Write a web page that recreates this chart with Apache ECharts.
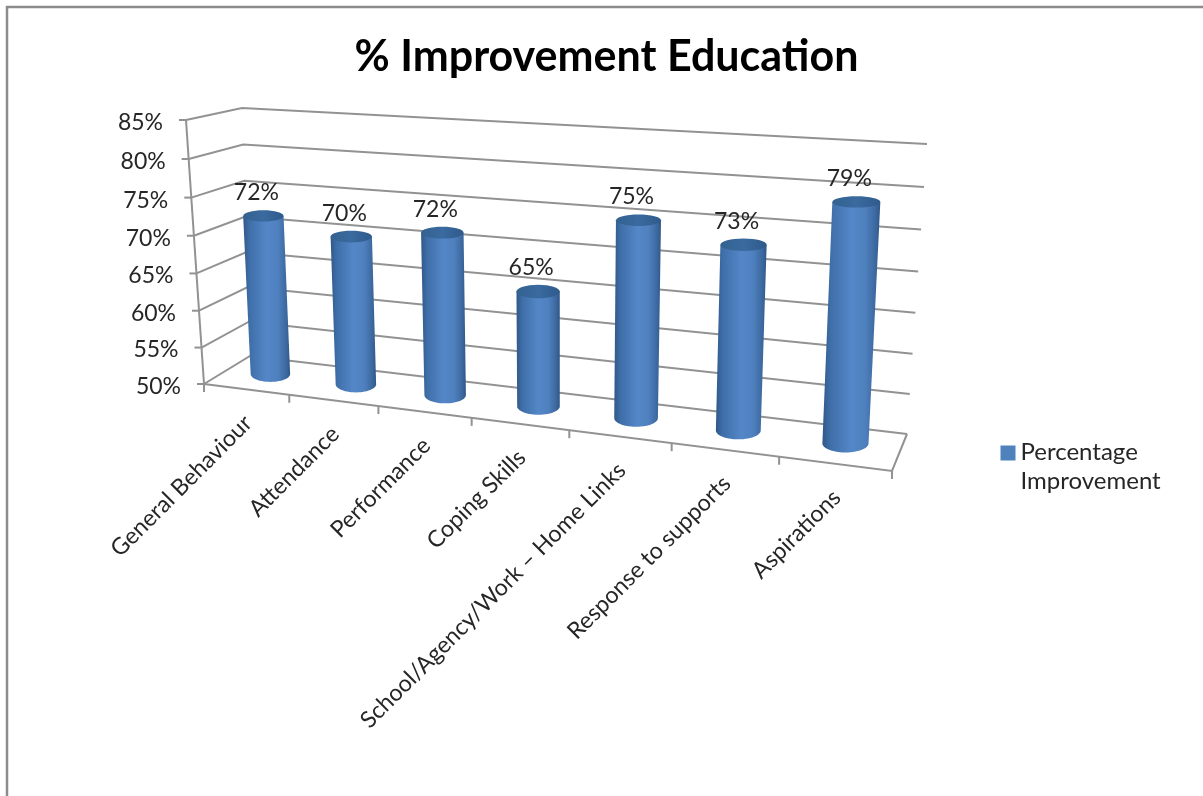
<!DOCTYPE html>
<html>
<head>
<meta charset="utf-8">
<script src="https://cdn.jsdelivr.net/npm/echarts@6/dist/echarts.min.js"></script>
<style>html,body{margin:0;padding:0;background:#fff}#c{width:1203px;height:796px}</style>
</head>
<body>
<div id="c"></div>
<script>
const chartTitle = '% Improvement Education';
const seriesName = 'Percentage Improvement';
const categories = ['General Behaviour','Attendance','Performance','Coping Skills','School/Agency/Work – Home Links','Response to supports','Aspirations'];
const values = [71.8,70,71.5,65,75,73,79];
const yTicks = [50,55,60,65,70,75,80,85];

// Perspective planes [bottom-left, bottom-right, top-right, top-left]
const BACK  = [[250,356],[907,434],[927,144],[242,108]];
const FRONT = [[204,384],[892,471],[904,162],[186,120]];
const BARS  = [[229,369],[901,450],[917,153],[216,114]];
const FONT = 'Lato, "Open Sans", sans-serif';
const INK = '#262626', RULE = '#929292';

function homography(q){
  const [[x0,y0],[x1,y1],[x2,y2],[x3,y3]] = q;
  const dx1=x1-x2, dx2=x3-x2, sx=x0-x1+x2-x3, dy1=y1-y2, dy2=y3-y2, sy=y0-y1+y2-y3;
  const d=dx1*dy2-dx2*dy1, g=(sx*dy2-dx2*sy)/d, h=(dx1*sy-sx*dy1)/d;
  const a=x1-x0+g*x1, b=x3-x0+h*x3, c=x0, e=y1-y0+g*y1, f=y3-y0+h*y3, k=y0;
  return (u,v)=>{const w=g*u+h*v+1; return [(a*u+b*v+c)/w,(e*u+f*v+k)/w];};
}
const backH=homography(BACK), frontH=homography(FRONT), barH=homography(BARS);

function norm(params,pt){
  const s=params.coordSys;
  return [(pt[0]-s.x)/s.width,(s.y+s.height-pt[1])/s.height];
}
function line(points,width){
  return {type:'polyline',shape:{points},style:{stroke:RULE,lineWidth:width||2,fill:null},silent:true};
}
function label(text,x,y,size){
  return {type:'text',x,y,silent:true,style:{text,fill:INK,font:size+'px '+FONT,align:'center',verticalAlign:'middle'}};
}
function arc(cx,cy,rx,ry,from,to,n){
  const out=[];
  for(let i=0;i<=n;i++){const t=from+(to-from)*i/n; out.push([cx+rx*Math.cos(t),cy+ry*Math.sin(t)]);}
  return out;
}

function renderFrame(params,api){
  const tick=api.value(1);
  const v=norm(params,api.coord([0,tick]))[1];
  const f=frontH(0,v), bl=backH(0,v), br=backH(1,v);
  const children=[
    line([f,bl,br]),
    line([[f[0]-7,f[1]],f]),
    {type:'text',x:f[0]-23,y:f[1]+2.5,silent:true,style:{text:tick+'%',fill:INK,font:'23px '+FONT,align:'right',verticalAlign:'middle'}}
  ];
  if(params.dataIndex===0){
    children.push(line([frontH(0,0),frontH(0,1)]));
    children.push(line([frontH(0,0),frontH(1,0),backH(1,0)]));
    for(let k=0;k<=categories.length;k++){
      const p=frontH(k/categories.length,0);
      children.push(line([p,[p[0],p[1]+8]]));
    }
  }
  return {type:'group',children};
}

function renderBar(params,api){
  const i=api.value(0), val=api.value(1);
  const top=norm(params,api.coord([i,val])), base=norm(params,api.coord([i,yTicks[0]]));
  const band=api.size([1,0])[0]/params.coordSys.width;
  const half=band*(0.238-0.03*base[0]);
  const pT=barH(top[0],top[1]), pB=barH(base[0],base[1]);
  const rxT=(barH(top[0]+half,top[1])[0]-barH(top[0]-half,top[1])[0])/2;
  const rxB=(barH(base[0]+half,base[1])[0]-barH(base[0]-half,base[1])[0])/2;
  const ryT=rxT*(0.40-0.20*top[1]), ryB=rxB*0.40;
  const body=[[pT[0]-rxT,pT[1]],[pT[0]+rxT,pT[1]]].concat(arc(pB[0],pB[1],rxB,ryB,0,Math.PI,28));
  const bodyFill=new echarts.graphic.LinearGradient(0,0,1,0,[
    {offset:0,color:'#305889'},{offset:0.14,color:'#3f6fa9'},{offset:0.5,color:'#5487c8'},
    {offset:0.74,color:'#4f80be'},{offset:0.93,color:'#3a669c'},{offset:1,color:'#2f5686'}]);
  const capFill=new echarts.graphic.LinearGradient(0,0,1,0,[
    {offset:0,color:'#33628f'},{offset:0.5,color:'#3a6a9f'},{offset:1,color:'#2f5a8c'}]);
  return {type:'group',children:[
    {type:'polygon',shape:{points:body},style:{fill:bodyFill}},
    {type:'ellipse',shape:{cx:pT[0],cy:pT[1],rx:rxT,ry:ryT},style:{fill:capFill}},
    label(Math.round(val)+'%',pT[0]-7,pT[1]-23.5,23)
  ]};
}

function renderCategory(params,api){
  const i=api.value(0);
  const base=norm(params,api.coord([i,yTicks[0]]));
  const p=frontH(base[0],0);
  return {type:'text',x:p[0]+2,y:p[1]+30,rotation:Math.PI/4,silent:true,
    style:{text:categories[i],fill:INK,font:'23.2px '+FONT,align:'right',verticalAlign:'middle'}};
}

const option={
  animation:false,
  backgroundColor:'#fff',
  title:{text:chartTitle,left:601.5,textAlign:'center',top:31,textStyle:{fontFamily:FONT,fontWeight:'bold',fontSize:43,color:'#000'}},
  legend:{data:[seriesName],left:1000.5,top:438,padding:0,itemWidth:15,itemHeight:43,icon:'path://M0 0H15V15H0Z M0 43H0.01Z',itemGap:0,selectedMode:false,
    formatter:()=>'Percentage\nImprovement',
    textStyle:{fontFamily:FONT,fontSize:24,lineHeight:29,color:INK}},
  grid:{left:100,right:100,top:100,bottom:100},
  xAxis:{type:'category',data:categories,show:false},
  yAxis:{type:'value',min:50,max:85,interval:5,show:false},
  graphic:[{type:'rect',shape:{x:7,y:7,width:1400,height:1000},style:{fill:null,stroke:'#8c8c8c',lineWidth:2.5},silent:true}],
  series:[
    {type:'custom',name:'Frame',z:1,silent:true,renderItem:renderFrame,data:yTicks.map((t,i)=>[0,t])},
    {type:'custom',name:seriesName,z:2,silent:true,itemStyle:{color:'#4F81BD'},renderItem:renderBar,data:values.map((v,i)=>[i,v])},
    {type:'custom',name:'Categories',z:3,silent:true,renderItem:renderCategory,data:categories.map((c,i)=>[i,yTicks[0]])}
  ]
};
echarts.init(document.getElementById('c'),null,{renderer:'canvas'}).setOption(option);
</script>
</body>
</html>
